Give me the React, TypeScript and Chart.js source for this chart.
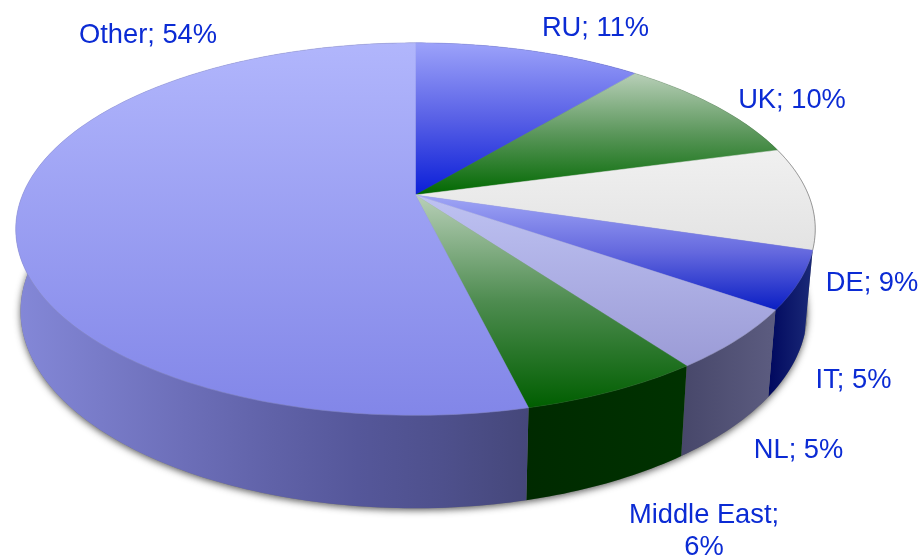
import React, { useEffect, useRef } from "react";
import { Chart, registerables } from "chart.js";

Chart.register(...registerables);

const categories = ["RU", "UK", "DE", "IT", "NL", "Middle East", "Other"];
const shares = [11, 9.8, 8.9, 5, 5.3, 6.2, 53.8];

// Top-face colours per slice, from the highest to the lowest point of the slice
const topStops = [
  ["#9ca2fa", "#5860e6", "#0a1ed8"],
  ["#b8cfb8", "#5a965a", "#006800"],
  ["#f0f0f0", "#e3e3e3"],
  ["#a0a6f6", "#6468de", "#0a1ec4"],
  ["#bec2f2", "#9b9bd6"],
  ["#b8cfb8", "#4e8c50", "#005e00"],
  ["#b1b6fc", "#8286e8"],
];
// Side-wall colours, left to right
const wallStops = [
  ["#3040c0", "#1020a0"],
  ["#1f5a1f", "#0f3f0f"],
  ["#b0b0b0", "#8c8c8c"],
  ["#00085e", "#1b2a78"],
  ["#47476a", "#5c5c80"],
  ["#002a00", "#003200"],
  ["#8488d8", "#787bc8", "#6c6eb8", "#6062a8", "#55579a", "#4e508c", "#45477a"],
];

const labelLayout: { x: number; y: number; lines?: number }[] = [
  { x: 595.5, y: 28 },
  { x: 792, y: 100 },
  { x: 872, y: 283 },
  { x: 853.5, y: 380 },
  { x: 798.5, y: 450 },
  { x: 704, y: 515, lines: 2 },
  { x: 148, y: 35 },
];
const LABEL_COLOR = "#0b2bd4";
const LABEL_FONT = "27.3px 'Liberation Sans', Arial, sans-serif";

// Perspective of the disc
const APEX_X = 415.5;
const APEX_Y = 195;
const AX = 393;
const AY = 180;
const PERSP = -0.183;

const project = (angle: number) => {
  const u = Math.cos(angle);
  const v = Math.sin(angle);
  const d = 1 + PERSP * v;
  return { x: APEX_X + (AX * u) / d, y: APEX_Y + (AY * v) / d };
};
const drop = (p: { x: number; y: number }) => ({
  x: APEX_X + (p.x - APEX_X) * (p.x < APEX_X ? 0.988 : 0.98),
  y: p.y + 93 - 0.0577 * (416 - p.y),
});

const arcPoints = (start: number, end: number) => {
  const n = Math.max(2, Math.ceil(((end - start) * 180) / Math.PI));
  const pts = [];
  for (let i = 0; i <= n; i++) pts.push(project(start + ((end - start) * i) / n));
  return pts;
};

const trace = (ctx: CanvasRenderingContext2D, pts: { x: number; y: number }[]) => {
  pts.forEach((p, i) => (i ? ctx.lineTo(p.x, p.y) : ctx.moveTo(p.x, p.y)));
};

const pie3d = {
  id: "pie3d",
  beforeDatasetsDraw(chart: any) {
    const ctx: CanvasRenderingContext2D = chart.ctx;
    const arcs = chart.getDatasetMeta(0).data;
    const full = arcPoints(0, Math.PI * 2);

    // soft shadow under the disc
    ctx.save();
    ctx.shadowColor = "rgba(40,40,40,0.75)";
    ctx.shadowBlur = 7;
    ctx.shadowOffsetY = 2;
    ctx.fillStyle = "#777";
    ctx.beginPath();
    trace(ctx, full.map(drop));
    ctx.closePath();
    ctx.fill();
    ctx.restore();

    // side walls
    arcs.forEach((arc: any, i: number) => {
      const pts = arcPoints(arc.startAngle, arc.endAngle);
      const low = pts.map(drop);
      const xs = pts.concat(low).map((p) => p.x);
      const front = pts.concat(low);
      const visibleXs = front.filter((p) => p.y > APEX_Y + 20).map((p) => p.x);
      const useXs = visibleXs.length ? visibleXs : xs;
      const g = ctx.createLinearGradient(Math.min(...useXs), 0, Math.max(...useXs), 0);
      wallStops[i].forEach((c, k, all) => g.addColorStop(k / (all.length - 1), c));
      ctx.fillStyle = g;
      ctx.beginPath();
      trace(ctx, pts.concat(low.reverse()));
      ctx.closePath();
      ctx.fill();
    });

    // top face
    arcs.forEach((arc: any, i: number) => {
      const pts = arcPoints(arc.startAngle, arc.endAngle);
      const ys = pts.map((p) => p.y).concat(APEX_Y);
      const g = ctx.createLinearGradient(0, Math.min(...ys), 0, Math.max(...ys));
      topStops[i].forEach((c, k, all) => g.addColorStop(k / (all.length - 1), c));
      ctx.fillStyle = g;
      ctx.beginPath();
      ctx.moveTo(APEX_X, APEX_Y);
      pts.forEach((p) => ctx.lineTo(p.x, p.y));
      ctx.closePath();
      ctx.fill();
      ctx.strokeStyle = g;
      ctx.lineWidth = 0.5;
      ctx.stroke();
      if (i === 2) {
        ctx.strokeStyle = "rgba(110,110,110,0.55)";
        ctx.lineWidth = 1;
        ctx.beginPath();
        trace(ctx, pts);
        ctx.stroke();
      }
    });

    // thin rim
    ctx.strokeStyle = "rgba(110,110,110,0.12)";
    ctx.lineWidth = 1;
    ctx.beginPath();
    trace(ctx, full);
    ctx.closePath();
    ctx.stroke();

    return false;
  },
  afterDraw(chart: any) {
    const ctx: CanvasRenderingContext2D = chart.ctx;
    ctx.save();
    ctx.fillStyle = LABEL_COLOR;
    ctx.font = LABEL_FONT;
    ctx.textAlign = "center";
    ctx.textBaseline = "middle";
    categories.forEach((cat, i) => {
      const pos = labelLayout[i];
      const pct = `${Math.round(shares[i])}%`;
      if (pos.lines === 2) {
        ctx.fillText(`${cat};`, pos.x, pos.y);
        ctx.fillText(pct, pos.x, pos.y + 32);
      } else {
        ctx.fillText(`${cat}; ${pct}`, pos.x, pos.y);
      }
    });
    ctx.restore();
  },
};

export default function App() {
  const ref = useRef<HTMLCanvasElement>(null);
  useEffect(() => {
    if (!ref.current) return;
    const chart = new Chart(ref.current, {
      type: "pie",
      data: {
        labels: categories,
        datasets: [{ data: shares, borderWidth: 0 }],
      },
      options: {
        animation: false,
        responsive: false,
        plugins: { legend: { display: false }, tooltip: { enabled: false } },
      },
      plugins: [pie3d],
    } as any);
    return () => chart.destroy();
  }, []);
  return (
    <div style={{ position: "fixed", left: 0, top: 0, width: 919, height: 557, background: "#fff" }}>
      <canvas ref={ref} width={919} height={557} style={{ display: "block" }} />
    </div>
  );
}
